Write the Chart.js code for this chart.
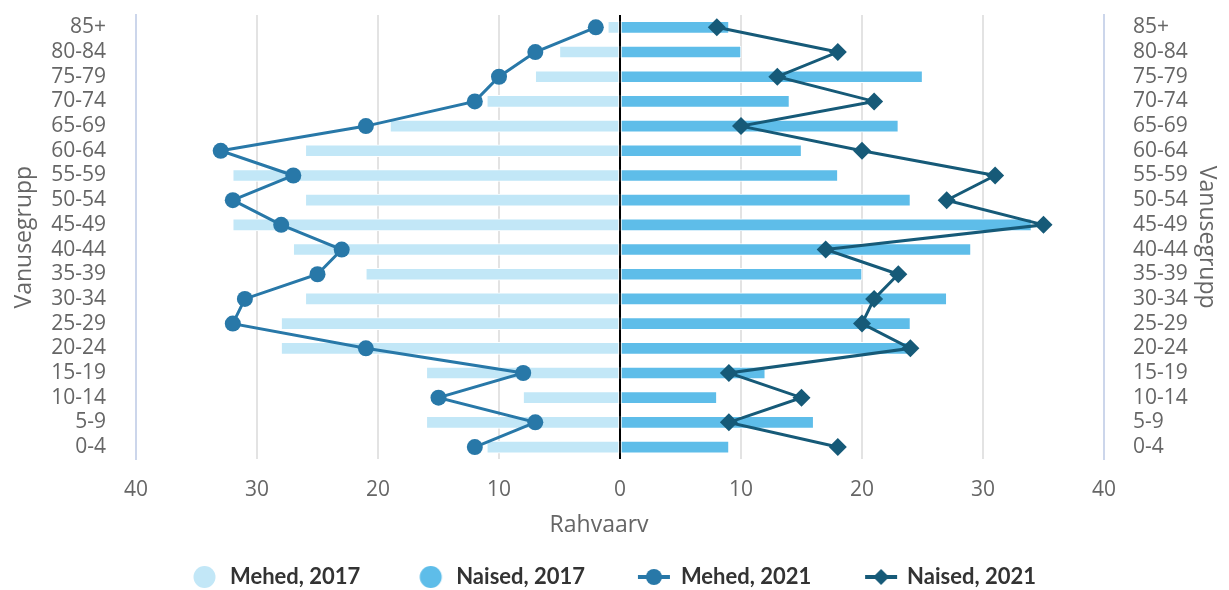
<!DOCTYPE html>
<html><head><meta charset="utf-8">
<script src="https://cdn.jsdelivr.net/npm/chart.js@4/dist/chart.umd.min.js"></script>
<style>html,body{margin:0;padding:0;background:#fff}#wrap{width:1229px;height:590px}</style>
</head><body><div id="wrap"><canvas id="c" width="1229" height="590"></canvas></div>
<script>
const categories = ['85+','80-84','75-79','70-74','65-69','60-64','55-59','50-54','45-49','40-44','35-39','30-34','25-29','20-24','15-19','10-14','5-9','0-4'];
const mehed2017 = [1,5,7,11,19,26,32,26,32,27,21,26,28,28,16,8,16,11];
const naised2017 = [9,10,25,14,23,15,18,24,34,29,20,27,24,24,12,8,16,9];
const mehed2021 = [2,7,10,12,21,33,27,32,28,23,25,31,32,21,8,15,7,12];
const naised2021 = [8,18,13,21,10,20,31,27,35,17,23,21,20,24,9,15,9,18];
const xTicks = [-40,-30,-20,-10,0,10,20,30,40];
const seriesNames = ['Mehed, 2017','Naised, 2017','Mehed, 2021','Naised, 2021'];

const C_M17 = '#c2e7f7', C_N17 = '#5ebde9', C_M21 = '#2878a8', C_N21 = '#165a78';
const FONT = '"Open Sans", "Noto Sans", sans-serif';
const LFONT = 'Lato, "Open Sans", sans-serif';
const TXT = '#666666';
const NB = '\u00a0';

function icon(kind, color) {
  const c = document.createElement('canvas');
  c.width = 60; c.height = 24;
  const g = c.getContext('2d');
  g.fillStyle = color; g.strokeStyle = color;
  if (kind === 'circle') {
    g.beginPath(); g.arc(36.5, 12, 11, 0, Math.PI * 2); g.fill();
  } else {
    const cx = kind === 'dot' ? 35 : 36;
    g.lineWidth = 4;
    g.beginPath(); g.moveTo(cx - 16, 12); g.lineTo(cx + 16, 12); g.stroke();
    g.beginPath();
    if (kind === 'dot') { g.arc(cx, 12, 8, 0, Math.PI * 2); }
    else { g.moveTo(cx, 4); g.lineTo(cx + 8, 12); g.lineTo(cx, 20); g.lineTo(cx - 8, 12); g.closePath(); }
    g.fill();
  }
  return c;
}
const icons = [icon('circle', C_M17), icon('circle', C_N17), icon('dot', C_M21), icon('diamond', C_N21)];

new Chart(document.getElementById('c'), {
  data: {
    labels: categories,
    datasets: [
      { type: 'bar', label: seriesNames[0], data: mehed2017.map(v => -v), backgroundColor: C_M17, borderColor: '#fff', borderWidth: 1, borderSkipped: false, order: 2 },
      { type: 'bar', label: seriesNames[1], data: naised2017, backgroundColor: C_N17, borderColor: '#fff', borderWidth: 1, borderSkipped: false, order: 2 },
      { type: 'line', label: seriesNames[2], data: mehed2021.map(v => -v), borderColor: C_M21, backgroundColor: C_M21, borderWidth: 3, pointRadius: 8, pointHoverRadius: 8, pointBorderWidth: 0, pointStyle: 'circle', tension: 0, order: 1 },
      { type: 'line', label: seriesNames[3], data: naised2021, borderColor: C_N21, backgroundColor: C_N21, borderWidth: 3, pointRadius: 9, pointHoverRadius: 9, pointBorderWidth: 0, pointStyle: 'rectRot', tension: 0, order: 1 }
    ]
  },
  options: {
    responsive: false, animation: false, indexAxis: 'y',
    layout: { padding: { top: 15, left: 0, right: 0, bottom: -8 } },
    datasets: { bar: { grouped: false, barThickness: 12 } },
    scales: {
      x: {
        type: 'linear', min: -40, max: 40, position: 'bottom',
        afterBuildTicks: s => { s.ticks = xTicks.map(v => ({ value: v })); },
        ticks: { callback: v => Math.abs(v), font: { family: FONT, size: 21 }, color: TXT, padding: 2 },
        grid: {
          color: ctx => (ctx.tick && ctx.tick.value === 0) ? '#000' : (ctx.tick && Math.abs(ctx.tick.value) === 40 ? 'rgba(0,0,0,0)' : '#e3e3e3'),
          lineWidth: 2, drawTicks: true, tickLength: 16.4, tickColor: 'rgba(0,0,0,0)'
        },
        border: { display: false },
        title: { display: true, text: 'Rahvaarv' + NB.repeat(7), font: { family: FONT, size: 23 }, color: TXT, padding: { top: 6.6, bottom: 0 } },
        afterFit: s => { s.paddingLeft = 0; s.paddingRight = 0; }
      },
      y: {
        type: 'category', position: 'left', offset: true,
        grid: { display: false, drawTicks: false },
        border: { display: true, color: '#ccd6eb', width: 2 },
        ticks: { font: { family: FONT, size: 21 }, color: TXT, padding: 30, autoSkip: false },
        title: { display: true, text: 'Vanusegrupp', font: { family: FONT, size: 23 }, color: TXT, padding: { top: 11, bottom: 0 } },
        afterFit: s => { s.width = 136; s.paddingTop = 0; s.paddingBottom = 0; }
      },
      y2: {
        type: 'category', labels: categories, position: 'right', offset: true,
        grid: { display: false, drawTicks: false },
        border: { display: true, color: '#ccd6eb', width: 2 },
        ticks: { font: { family: FONT, size: 21 }, color: TXT, padding: 29, autoSkip: false },
        title: { display: true, text: 'Vanusegrupp', font: { family: FONT, size: 23 }, color: TXT, padding: { top: 9, bottom: 0 } },
        afterFit: s => { s.width = 125; s.paddingTop = 0; s.paddingBottom = 0; }
      }
    },
    plugins: {
      tooltip: { enabled: false },
      legend: {
        position: 'bottom',
        labels: {
          usePointStyle: true, pointStyleWidth: 42, padding: 26.8,
          font: { family: LFONT, size: 22, weight: 'bold' }, color: '#333',
          sort: (a, b) => a.datasetIndex - b.datasetIndex,
          generateLabels: chart => Chart.defaults.plugins.legend.labels.generateLabels(chart).map(l => Object.assign(l, { pointStyle: icons[l.datasetIndex], text: l.text + NB.repeat(3) }))
        }
      }
    }
  }
});
</script></body></html>
